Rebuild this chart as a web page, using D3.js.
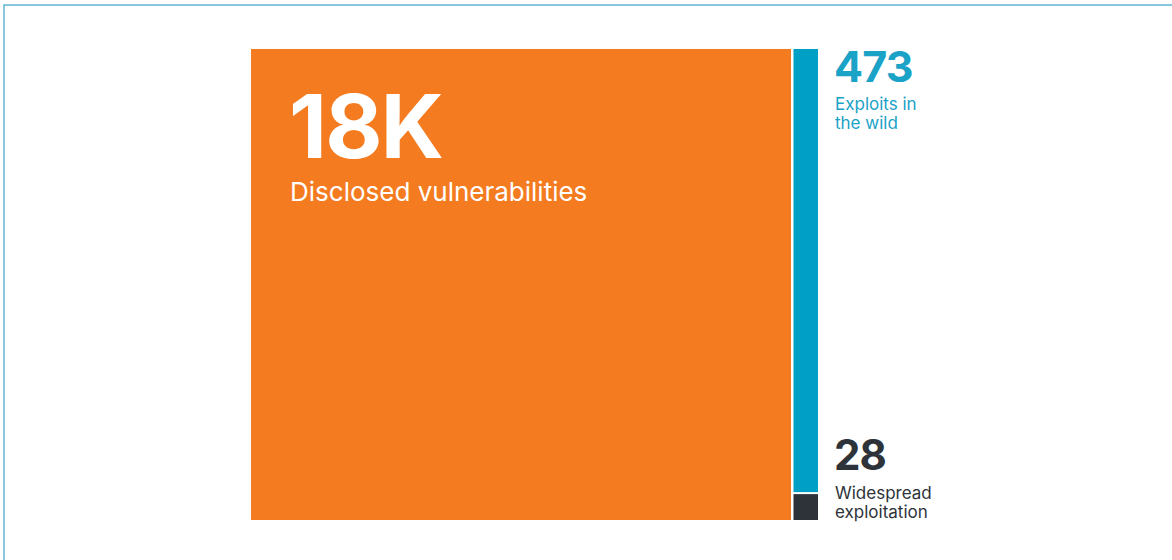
<!DOCTYPE html>
<html lang="en-US">
<head>
<meta charset="utf-8">
<script src="https://cdn.jsdelivr.net/npm/d3@7"></script>
<style>
  html, body { margin: 0; padding: 0; background: #fff; }
  svg { display: block; }
</style>
</head>
<body>
<div class="chart"></div>
<script>
// values shown in the graphic
const categories = ["disclosed", "exploits"];
const disclosed = 18000;
const exploits = 473;
const widespread = 28;
const big_labels = ["18K", "473", "28"];
const small_labels = [["Disclosed vulnerabilities"], ["Exploits in", "the wild"], ["Widespread", "exploitation"]];

const W = 1172, H = 560;
const font = "Inter, 'Open Sans', sans-serif";

svg = d3.select(".chart")
    .append("svg")
    .attr("width", W)
    .attr("height", H);

// frame
svg.append("rect")
    .attr("x", 4)
    .attr("y", 5)
    .attr("width", W + 20)
    .attr("height", H + 20)
    .attr("fill", "none")
    .attr("stroke", "#62b4d4")
    .attr("stroke-width", 1.5);

// columns: big block and the thin exploit bar
x = d3.scaleOrdinal()
    .domain(categories)
    .range([[251, 791], [793.5, 818]]);

// thin bar height is proportional to 473, dark part to 28
y = d3.scaleLinear()
    .domain([0, exploits])
    .range([520, 49]);

svg.append("rect")
    .attr("x", x("disclosed")[0])
    .attr("y", y(exploits))
    .attr("width", x("disclosed")[1] - x("disclosed")[0])
    .attr("height", y(0) - y(exploits))
    .attr("fill", "#f47b20");

svg.append("rect")
    .attr("x", x("exploits")[0])
    .attr("y", y(exploits))
    .attr("width", x("exploits")[1] - x("exploits")[0])
    .attr("height", y(widespread) - y(exploits))
    .attr("fill", "#00a0c6");

svg.append("rect")
    .attr("x", x("exploits")[0])
    .attr("y", y(widespread) + 2)
    .attr("width", x("exploits")[1] - x("exploits")[0])
    .attr("height", y(0) - y(widespread) - 2)
    .attr("fill", "#2d3339");

// labels
function label(gx, gy, big, small, color, bigSize, smallSize, lh, gap) {
    g = svg.append("g").attr("transform", `translate(${gx}, ${gy})`);
    g.append("text")
        .attr("x", 0)
        .attr("y", 0)
        .attr("fill", color)
        .attr("font-family", font)
        .attr("font-weight", 700)
        .attr("font-size", bigSize + "px")
        .attr("letter-spacing", "-0.02em")
        .text(big);
    small.forEach(function(s, i) {
        g.append("text")
            .attr("x", 1)
            .attr("y", gap + i * lh)
            .attr("fill", color)
            .attr("font-family", font)
            .attr("font-weight", 400)
            .attr("font-size", smallSize + "px")
            .text(s);
    });
}

label(289, 158, big_labels[0], small_labels[0], "#ffffff", 88, 26, 30, 43);
label(834, 82, big_labels[1], small_labels[1], "#1aa2c7", 43, 17, 19, 28);
label(834, 470, big_labels[2], small_labels[2], "#2d3339", 42, 17, 19, 29);
</script>
</body>
</html>
